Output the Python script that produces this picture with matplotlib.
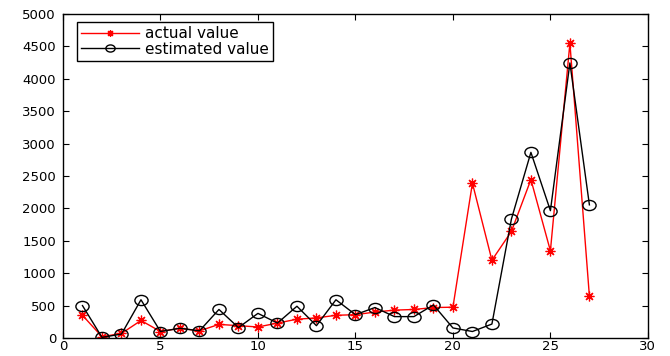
import matplotlib
matplotlib.use("Agg")
import matplotlib.pyplot as plt
from matplotlib.path import Path
from matplotlib.transforms import Affine2D

x = list(range(1, 28))
actual = [350, 20, 70, 270, 100, 150, 110, 210, 190, 170, 230, 290, 310, 350,
          360, 400, 430, 440, 470, 475, 2390, 1200, 1645, 2445, 1345, 4550, 645]
estimated = [500, 10, 60, 590, 100, 150, 110, 440, 160, 380, 230, 490, 190, 590,
             360, 470, 330, 330, 510, 155, 100, 215, 1835, 2865, 1965, 4245, 2055]

plt.rcParams['font.family'] = ['DejaVu Sans']
ellipse = Path.unit_circle().transformed(Affine2D().scale(1.3, 1.0))

fig = plt.figure(figsize=(6.7, 3.56), dpi=100)
ax = fig.add_axes([0.094, 0.0506, 0.873, 0.910])
ax.plot(x, actual, color='red', marker=(8, 2, 0), ms=7, mew=0.9, lw=1,
        label='actual value')
ax.plot(x, estimated, color='black', marker=ellipse, ms=9.5, mfc='none', mew=1,
        lw=1, label='estimated value')
ax.set_xlim(0, 30)
ax.set_ylim(0, 5000)
ax.set_xticks(range(0, 31, 5))
ax.set_yticks(range(0, 5001, 500))
ax.tick_params(direction='in', top=True, right=True, labelsize=9.5, length=4)
ax.tick_params(axis='x', pad=1.5)
ax.tick_params(axis='y', pad=5)
for s in ax.spines.values():
    s.set_linewidth(1)
leg = ax.legend(loc='upper left', bbox_to_anchor=(0.024, 0.975), fancybox=False,
                edgecolor='black', framealpha=1, fontsize=11, borderaxespad=0,
                handlelength=3.8, labelspacing=0.05, markerscale=0.7,
                borderpad=0.25, handletextpad=0.4)
leg.get_frame().set_linewidth(1)
fig.savefig('out.png')
